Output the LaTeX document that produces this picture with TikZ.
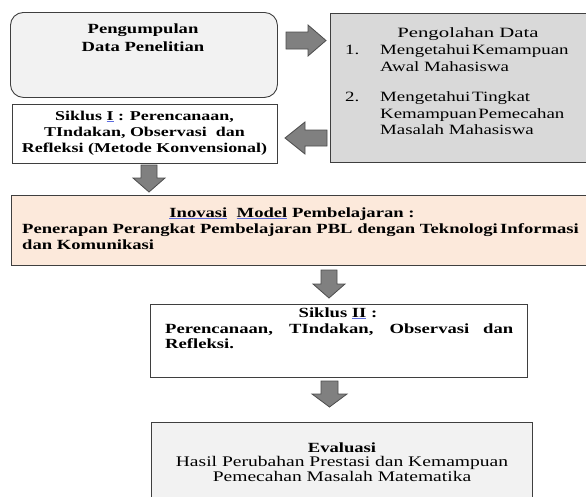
\documentclass[tikz,border=0pt]{standalone}
\usepackage{fontspec}
\setmainfont{Liberation Serif}[FakeStretch=1.33]
\usepackage{graphicx}
\definecolor{boxA}{HTML}{F2F2F2}
\definecolor{boxB}{HTML}{D9D9D9}
\definecolor{peach}{HTML}{FCE9DB}
\definecolor{arrfill}{HTML}{808080}
\definecolor{arrline}{HTML}{4D4D4D}
\definecolor{edge}{HTML}{3F3F3F}
\definecolor{squigc}{HTML}{5B6BE0}
\newcommand{\squig}[1]{{\color{squigc}$\underline{\hbox{\color{black}#1}}$}}
\begin{document}
\begin{tikzpicture}[x=1pt,y=-1pt,
  box/.style={draw=edge, line width=0.9pt, inner sep=0pt, anchor=north west},
  blockarr/.style={fill=arrfill, draw=arrline, line width=0.8pt, line join=miter},
  txt/.style={anchor=base, inner sep=0pt, font=\fontsize{14.2}{16}\selectfont},
  btxt/.style={anchor=base, inner sep=0pt, font=\fontsize{14}{16}\selectfont\bfseries},
  stxt/.style={anchor=base, inner sep=0pt, font=\fontsize{13.5}{16}\selectfont\bfseries},
  etxt/.style={anchor=base, inner sep=0pt, font=\fontsize{14.7}{16}\selectfont}]
\useasboundingbox (0,0) rectangle (586,496);
\clip (0,0) rectangle (586,496);

% boxes
\node[box, fill=boxA, rounded corners=13pt, minimum width=267pt, minimum height=85pt] (b1) at (10,12) {};
\node[box, fill=boxB, minimum width=290pt, minimum height=149pt] (b2) at (330,13) {};
\node[box, fill=white, minimum width=265pt, minimum height=59pt] (b3) at (12,104) {};
\node[box, fill=peach, minimum width=600pt, minimum height=70pt] (b4) at (11,195) {};
\node[box, fill=white, minimum width=377pt, minimum height=73pt] (b5) at (150,304) {};
\node[box, fill=boxA, minimum width=381pt, minimum height=100pt] (b6) at (151,422) {};

% block arrows
\draw[blockarr] (286,32) -- (308,32) -- (308,25) -- (326,40.5) -- (308,56) -- (308,49) -- (286,49) -- cycle;
\draw[blockarr] (327,130) -- (305,130) -- (305,122) -- (285,138) -- (305,154) -- (305,146) -- (327,146) -- cycle;
\draw[blockarr] (141,165) -- (157,165) -- (157,178) -- (165,178) -- (149,192) -- (133,178) -- (141,178) -- cycle;
\draw[blockarr] (321,270) -- (337,270) -- (337,284) -- (345,284) -- (329,298) -- (313,284) -- (321,284) -- cycle;
\draw[blockarr] (321,381) -- (338,381) -- (338,394) -- (347,394) -- (329.5,407) -- (312,394) -- (321,394) -- cycle;

% box 1 text
\node[btxt] (t1a) at (143,33.5) {Pengumpulan};
\node[btxt] (t1b) at (143,51) {Data Penelitian};

% box 2 text
\node[txt] (t2) at (468,37.5) {\scalebox{1.1}[1]{Pengolahan Data}};
\node[txt, anchor=base west] (n1) at (345,54.5) {1.};
\node[txt, anchor=base west] (i1a) at (380,54.5) {Mengetahui\hspace{0.12em}Kemampuan};
\node[txt, anchor=base west] (i1b) at (380,71.5) {Awal Mahasiswa};
\node[txt, anchor=base west] (n2) at (345,101.5) {2.};
\node[txt, anchor=base west] (i2a) at (380,101.5) {Mengetahui\hspace{0.12em}Tingkat};
\node[txt, anchor=base west] (i2b) at (380,118) {Kemampuan\hspace{0.12em}Pemecahan};
\node[txt, anchor=base west] (i2c) at (380,134.5) {Masalah Mahasiswa};

% box 3 text
\node[stxt] (t3a) at (144.5,120) {Siklus \squig{I} : Perencanaan,};
\node[stxt] (t3b) at (144.5,136.5) {TIndakan, Observasi\ \ dan};
\node[stxt] (t3c) at (144.5,152) {Refleksi (Metode Konvensional)};

% box 4 text
\node[btxt] (t4a) at (292,217) {\squig{Inovasi}\ \ \squig{Model} Pembelajaran :};
\node[btxt, anchor=base west] (t4b) at (22,233) {Penerapan Perangkat Pembelajaran PBL dengan Teknologi\,Informasi};
\node[btxt, anchor=base west] (t4c) at (22,249) {dan Komunikasi};

% box 5 text
\node[btxt] (t5a) at (338,317) {Siklus \squig{II} :};
\node[btxt, anchor=base west] (t5b) at (165,333) {\makebox[348pt][s]{Perencanaan, TIndakan, Observasi dan}};
\node[btxt, anchor=base west] (t5c) at (165,348) {Refleksi.};

% box 6 text
\node[etxt, font=\fontsize{14}{16}\selectfont\bfseries] (t6a) at (342,452) {Evaluasi};
\node[etxt] (t6b) at (342,466.5) {Hasil Perubahan Prestasi dan Kemampuan};
\node[etxt] (t6c) at (342,481.5) {Pemecahan Masalah Matematika};
\end{tikzpicture}
\end{document}
